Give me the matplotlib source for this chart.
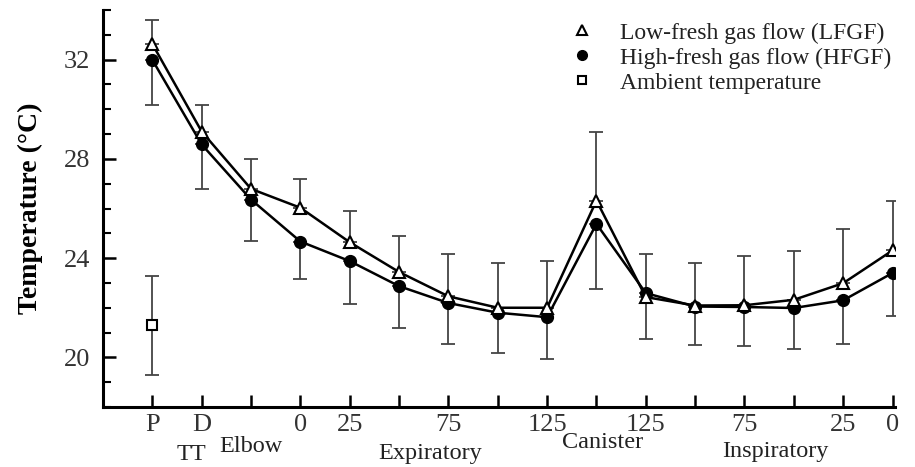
import matplotlib
matplotlib.use("Agg")
import matplotlib.pyplot as plt
import matplotlib.transforms as mtransforms
from matplotlib.lines import Line2D
from matplotlib.ticker import MultipleLocator

plt.rcParams['font.family'] = ['Liberation Serif', 'DejaVu Serif']

# positions along the breathing circuit
tick_labels = ["P", "D", "", "0", "25", "", "75", "", "125", "", "125", "", "75", "", "25", "0"]

lfgf = [32.63, 29.10, 26.79, 26.03, 24.64, 23.44, 22.46, 22.00, 22.00, 26.32, 22.43, 22.09, 22.10, 22.32, 22.99, 24.31]
lfgf_err = [0.97, 1.09, 1.21, 1.17, 1.24, 1.45, 1.72, 1.80, 1.90, 2.78, 1.75, 1.71, 1.98, 1.96, 2.19, 1.99]

hfgf = [31.99, 28.58, 26.36, 24.67, 23.88, 22.87, 22.19, 21.80, 21.62, 25.38, 22.59, 22.05, 22.03, 21.99, 22.30, 23.40]
hfgf_err = [1.81, 1.81, 1.68, 1.50, 1.72, 1.69, 1.64, 1.63, 1.67, 2.61, 1.84, 1.57, 1.57, 1.64, 1.75, 1.74]

ambient = 21.29
ambient_err = 2.0

# group labels under the axis: (text, x position, y pixel from top)
groups = [("TT", 0.8, 454), ("Elbow", 2.0, 446), ("Expiratory", 5.64, 454),
          ("Canister", 9.13, 443), ("Inspiratory", 12.63, 452)]

W, H = 915, 467
fig = plt.figure(figsize=(W / 100, H / 100), dpi=100)
ax = fig.add_axes([103 / W, 1 - 407 / H, 792 / W, 397 / H])

x = list(range(len(tick_labels)))
ecol = "#444444"

# error bars (LFGF up, HFGF down)
ax.errorbar(x, lfgf, yerr=[[0] * len(x), lfgf_err], fmt="none", ecolor=ecol,
            elinewidth=1.3, capsize=5, capthick=1.3, zorder=1)
ax.errorbar(x, hfgf, yerr=[hfgf_err, [0] * len(x)], fmt="none", ecolor=ecol,
            elinewidth=1.3, capsize=5, capthick=1.3, zorder=1)
ax.errorbar([0], [ambient], yerr=[[ambient_err], [ambient_err]], fmt="none", ecolor=ecol,
            elinewidth=1.3, capsize=5, capthick=1.3, zorder=1)

ax.plot(x, hfgf, color="black", lw=1.8, marker="o", ms=8.5, mfc="black", mec="black", zorder=3)
ax.plot(x, lfgf, color="black", lw=1.8, marker="^", ms=8.5, mfc="white", mec="black",
        mew=1.5, zorder=4)
ax.plot([0], [ambient], ls="none", marker="s", ms=7.5, mfc="white", mec="black",
        mew=1.5, zorder=4)

ax.set_xlim(-1, 15.05)
ax.set_ylim(18, 34)
ax.set_xticks(x)
ax.set_xticklabels(tick_labels, fontsize=19)
ax.yaxis.set_minor_locator(MultipleLocator(1))
ax.set_yticks([20, 24, 28, 32])
ax.tick_params(axis="y", labelsize=19)
ax.tick_params(direction="in", width=1.8, length=9, pad=5)
ax.tick_params(axis="y", which="minor", direction="in", width=1.5, length=6)
ax.tick_params(axis="y", which="major", pad=9)
for t in ax.get_yticklabels() + ax.get_xticklabels():
    t.set_color("#333333")

for s in ["top", "right"]:
    ax.spines[s].set_visible(False)
for s in ["left", "bottom"]:
    ax.spines[s].set_linewidth(2.2)

ax.set_ylabel("Temperature (°C)", fontsize=20, fontweight="bold", labelpad=15)

trans = mtransforms.blended_transform_factory(ax.transData, fig.transFigure)
for txt, gx, gy in groups:
    fig.text(gx, 1 - gy / H, txt, transform=trans, ha="center", va="center",
             fontsize=17.5, color="#222222")

handles = [
    Line2D([], [], ls="none", marker="^", ms=7, mfc="white", mec="black", mew=1.5),
    Line2D([], [], ls="none", marker="o", ms=7, mfc="black", mec="black"),
    Line2D([], [], ls="none", marker="s", ms=6, mfc="white", mec="black", mew=1.5),
]
labels = ["Low-fresh gas flow (LFGF)", "High-fresh gas flow (HFGF)", "Ambient temperature"]
leg = ax.legend(handles, labels, loc="upper left", bbox_to_anchor=(570 / W, 1 - 22 / H),
                bbox_transform=fig.transFigure, frameon=False, fontsize=17,
                handlelength=1.0, handletextpad=1.1, labelspacing=0.15,
                borderpad=0, borderaxespad=0)
for t in leg.get_texts():
    t.set_color("#222222")

fig.savefig("out.png", dpi=100)
